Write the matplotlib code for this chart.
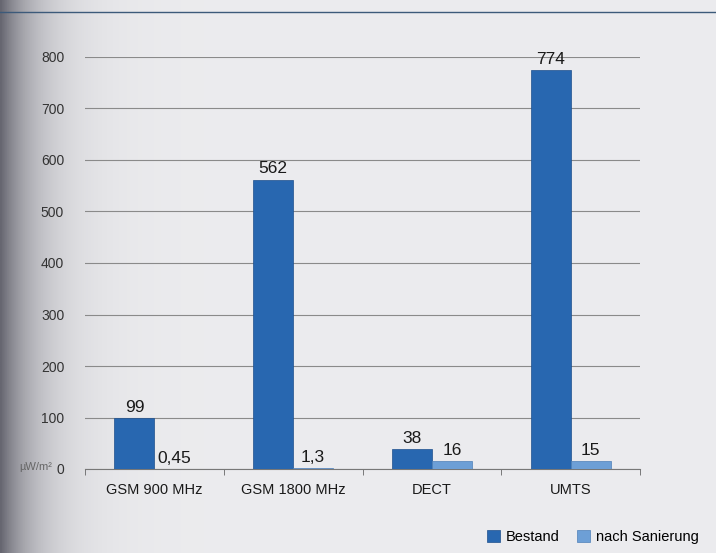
import numpy as np
import matplotlib.pyplot as plt
from matplotlib.lines import Line2D

# Funkbelastung in µW/m², vorher / nachher
categories = ["GSM 900 MHz", "GSM 1800 MHz", "DECT", "UMTS"]
bestand = [99, 562, 38, 774]
nach_sanierung = [0.45, 1.3, 16, 15]
bestand_labels = ["99", "562", "38", "774"]
nach_labels = ["0,45", "1,3", "16", "15"]
y_ticks = [0, 100, 200, 300, 400, 500, 600, 700, 800]

DARK = "#2867b0"
LIGHT = "#6d9fd6"
PAPER = np.array([0.925, 0.925, 0.935])
EDGE = np.array([0.40, 0.40, 0.44])

plt.rcParams["font.family"] = ["Liberation Sans", "DejaVu Sans"]

fig = plt.figure(figsize=(7.16, 5.53), dpi=100)
fig.patch.set_facecolor(PAPER)

# scanned page look: darker fade at the left edge
bg = fig.add_axes([0, 0, 1, 1], zorder=-10)
xs = np.linspace(0, 1, 400)
fade = np.exp(-xs / 0.05)[None, :, None]
img = np.repeat(PAPER[None, None, :] * (1 - fade) + EDGE[None, None, :] * fade, 4, axis=0)
bg.imshow(img, aspect="auto", extent=[0, 1, 0, 1])
bg.set_xlim(0, 1)
bg.set_ylim(0, 1)
bg.axis("off")

fig.add_artist(Line2D([0, 1], [1 - 12 / 553, 1 - 12 / 553], color="#3c5a7a", lw=1.0))

ax = fig.add_axes([85 / 716, 84 / 553, 555 / 716, 412 / 553])
ax.set_facecolor("none")

x = np.arange(len(categories))
w = 0.288
b1 = ax.bar(x - w / 2, bestand, w, color=DARK, edgecolor="#1e4f8c", lw=0.5,
            label="Bestand", zorder=3)
b2 = ax.bar(x + w / 2, nach_sanierung, w, color=LIGHT, edgecolor="#4f80b8", lw=0.5,
            label="nach Sanierung", zorder=3)

for rect, txt in zip(b1, bestand_labels):
    ax.text(rect.get_x() + rect.get_width() / 2, rect.get_height() + 6, txt,
            ha="center", va="bottom", fontsize=12.5, color="#1a1a1a")
for rect, txt in zip(b2, nach_labels):
    ax.text(rect.get_x() + rect.get_width() / 2, rect.get_height() + 6, txt,
            ha="center", va="bottom", fontsize=12.5, color="#1a1a1a")

ax.set_xlim(-0.5, len(categories) - 0.5)
ax.set_ylim(0, 800)
ax.set_yticks(y_ticks)
ax.set_yticklabels([str(v) for v in y_ticks], fontsize=10, color="#333333")
ax.yaxis.grid(True, color="#8a8a8a", lw=0.8)
ax.set_axisbelow(True)
ax.tick_params(axis="y", length=0, pad=15)

ax.set_xticks(x)
ax.set_xticklabels(categories, fontsize=10.5, color="#1a1a1a")
ax.set_xticks(np.arange(len(categories) + 1) - 0.5, minor=True)
ax.tick_params(axis="x", which="major", length=0, pad=10)
ax.tick_params(axis="x", which="minor", length=4, color="#666666", direction="out")

for side in ["top", "right", "left"]:
    ax.spines[side].set_visible(False)
ax.spines["bottom"].set_color("#777777")

fig.text(52 / 716, 1 - 467 / 553, "µW/m²", fontsize=8, color="#666666",
         ha="right", va="center")

fig.legend(loc="center right", bbox_to_anchor=(712 / 716, 1 - 537 / 553),
           ncol=2, frameon=False, fontsize=10.5, handlelength=0.9, handleheight=0.9,
           columnspacing=1.2, handletextpad=0.4)

fig.savefig("out.png", dpi=100, facecolor=fig.get_facecolor())
